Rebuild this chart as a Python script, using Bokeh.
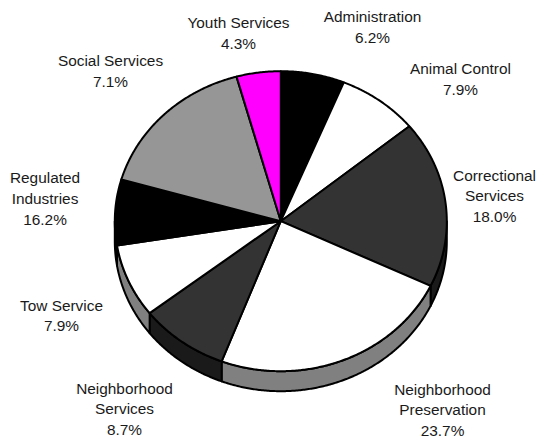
import numpy as np
from bokeh.embed import file_html
from bokeh.models import Range1d
from bokeh.plotting import figure
from bokeh.resources import INLINE

# Budget shares, clockwise from twelve o'clock
departments = ["Administration", "Animal Control", "Correctional Services",
               "Neighborhood Preservation", "Neighborhood Services", "Tow Service",
               "Social Services", "Regulated Industries", "Youth Services"]
shares = [6.2, 7.9, 18.0, 23.7, 8.7, 7.9, 7.1, 16.2, 4.3]
top_colors = ["#000000", "#ffffff", "#333333", "#ffffff", "#333333",
              "#ffffff", "#000000", "#969696", "#ff00ff"]
side_colors = ["#000000", "#808080", "#1a1a1a", "#808080", "#1a1a1a",
               "#808080", "#000000", "#4b4b4b", "#800080"]

# Callout text: lines of each label
label_lines = [["Administration", "6.2%"], ["Animal Control", "7.9%"],
               ["Correctional", "Services", "18.0%"],
               ["Neighborhood", "Preservation", "23.7%"],
               ["Neighborhood", "Services", "8.7%"], ["Tow Service", "7.9%"],
               ["Social Services", "7.1%"],
               ["Regulated", "Industries", "16.2%"], ["Youth Services", "4.3%"]]
label_centers = [(372, 16), (460, 68), (494, 174.5), (442, 388.5), (124, 387.5),
                 (61, 304.5), (110, 60), (44.5, 177), (238, 22)]
LINE_STEP = 20.9

CX, CY, RX, RY, DEPTH = 280.3, 220.7, 166.0, 150.0, 20.0

W, H = 537, 439
p = figure(width=W, height=H, x_range=Range1d(0, W), y_range=Range1d(H, 0),
           output_backend="svg", toolbar_location=None, min_border=0)
p.axis.visible = False
p.grid.visible = False
p.outline_line_color = None


def rim(a0, a1):
    n = max(2, int(abs(a1 - a0) * 120) + 2)
    t = np.linspace(a0, a1, n)
    return CX + RX * np.sin(t), CY - RY * np.cos(t)


edges = np.cumsum([0.0] + shares) / sum(shares) * 2 * np.pi

# Side wall: only the front half of the disc shows it
for i, c in enumerate(side_colors):
    a0, a1 = max(edges[i], np.pi / 2), min(edges[i + 1], 3 * np.pi / 2)
    if a1 <= a0:
        continue
    x, y = rim(a0, a1)
    xs = np.concatenate([x, x[::-1]])
    ys = np.concatenate([y, y[::-1] + DEPTH])
    p.patch(xs.tolist(), ys.tolist(), fill_color=c, line_color="#000000",
            line_width=2, line_join="round")

# Top face
for i, c in enumerate(top_colors):
    x, y = rim(edges[i], edges[i + 1])
    xs = np.concatenate([[CX], x])
    ys = np.concatenate([[CY], y])
    p.patch(xs.tolist(), ys.tolist(), fill_color=c, line_color="#000000",
            line_width=2, line_join="round")

for lines, (lx, ly) in zip(label_lines, label_centers):
    p.text([lx] * len(lines), [ly + k * LINE_STEP for k in range(len(lines))], text=lines,
           text_font={"value": "Liberation Sans"}, text_font_size="15.4px",
           text_color="#1a1a1a", text_align="center", text_baseline="middle")

open("out.html", "w").write(file_html(p, INLINE))
